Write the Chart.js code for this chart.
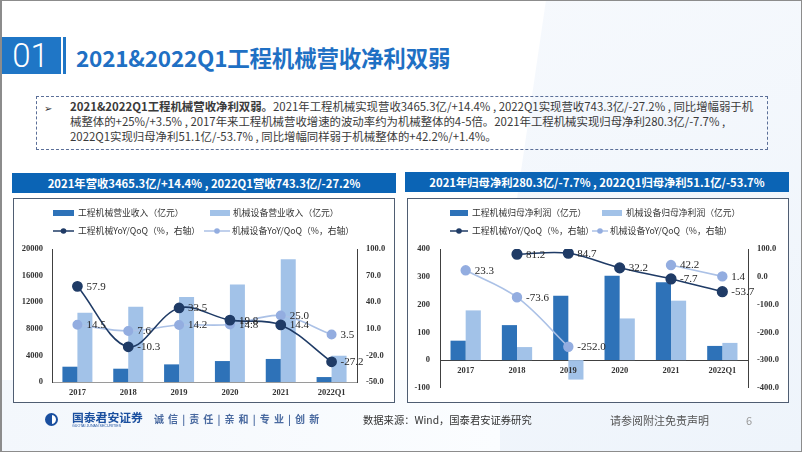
<!DOCTYPE html>
<html><head><meta charset="utf-8">
<script src="https://cdn.jsdelivr.net/npm/chart.js@4"></script>
<style>
html,body{margin:0;padding:0;}
body{width:802px;height:452px;position:relative;overflow:hidden;background:#fff;font-family:"Noto Sans CJK SC","Noto Sans",sans-serif;}
.a{position:absolute;}
#frame{left:0;top:0;width:802px;height:452px;box-sizing:border-box;border:1px solid #8c8c8c;border-left-width:2px;}
.bg1{left:480px;top:0;width:330px;height:452px;background:linear-gradient(160deg,#f6f9fd,#eef4fb);clip-path:polygon(20% 0,100% 0,100% 100%,0 100%);}
.bg2{left:0;top:380px;width:500px;height:72px;background:linear-gradient(90deg,#f3f7fc,#fbfdff);}
#num{left:0;top:37px;width:61px;height:37px;background:#1f76c6;color:#fff;font-family:Roboto,"Open Sans",sans-serif;font-weight:300;font-size:33px;line-height:37px;text-align:center;}
#bar{left:63px;top:37px;width:3px;height:37px;background:#1f76c6;}
#title{left:76px;top:43px;font-size:22.5px;line-height:28px;font-weight:bold;color:#1f70c4;white-space:nowrap;letter-spacing:-0.2px;}
#tbox{left:36px;top:96px;width:732px;height:54px;box-sizing:border-box;border:1px dashed #5b6f98;}
#arrow{left:44px;top:100px;font-size:10px;line-height:15px;color:#333;}
#para{left:70px;top:99px;font-size:11.4px;line-height:15px;color:#3a3a3a;white-space:nowrap;}
.hdr{top:173px;width:384px;height:20px;background:#0b64b5;color:#fff;font-weight:bold;font-size:11.3px;line-height:20px;text-align:center;white-space:nowrap;}
.box{top:198px;width:382px;height:205px;box-sizing:border-box;border:1.5px solid #4f5d72;background:#fff;}
canvas{position:absolute;}
#logo{left:45px;top:413px;width:13px;height:13px;border-radius:50%;box-sizing:border-box;border:2px solid #1a4f9f;background:linear-gradient(90deg,#1a4f9f 55%,#fff 55%);}
#lname{left:72px;top:410px;font-size:11.8px;font-weight:bold;color:#1a4f9f;line-height:13px;white-space:nowrap;letter-spacing:0px;}
#lsub{left:72px;top:424px;font-size:3.6px;color:#1a4f9f;line-height:4px;white-space:nowrap;font-family:"Liberation Sans",sans-serif;}
#slogan{left:154px;top:412px;font-size:10px;font-weight:bold;color:#4a6aa0;line-height:14px;white-space:nowrap;letter-spacing:4.1px;}
#src{left:363px;top:413px;font-size:10.3px;color:#333;line-height:14px;white-space:nowrap;}
#disc{left:610px;top:413px;font-size:11px;color:#555;line-height:14px;white-space:nowrap;}
#page{left:746px;top:413px;font-size:11px;color:#9a9a9a;line-height:14px;}
</style></head>
<body>
<div class="a bg1"></div>
<div class="a bg2"></div>
<div class="a" id="num">01</div>
<div class="a" id="bar"></div>
<div class="a" id="title">2021&amp;2022Q1工程机械营收净利双弱</div>
<div class="a" id="tbox"></div>
<div class="a" id="arrow">➢</div>
<div class="a" id="para"><b>2021&amp;2022Q1工程机械营收净利双弱。</b>2021年工程机械实现营收3465.3亿/+14.4% , 2022Q1实现营收743.3亿/-27.2% , 同比增幅弱于机<br>械整体的+25%/+3.5% , 2017年来工程机械营收增速的波动率约为机械整体的4-5倍。2021年工程机械实现归母净利280.3亿/-7.7% ,<br>2022Q1实现归母净利51.1亿/-53.7% , 同比增幅同样弱于机械整体的+42.2%/+1.4%。</div>

<div class="a hdr" style="left:12px;">2021年营收3465.3亿/+14.4% , 2022Q1营收743.3亿/-27.2%</div>
<div class="a hdr" style="left:405px;top:172px;">2021年归母净利280.3亿/-7.7% , 2022Q1归母净利51.1亿/-53.7%</div>
<div class="a box" style="left:13px;"></div>
<div class="a box" style="left:407px;"></div>
<canvas id="c1" width="382" height="205" style="left:13px;top:198px;width:382px;height:205px;"></canvas>
<canvas id="c2" width="382" height="205" style="left:407px;top:198px;width:382px;height:205px;"></canvas>

<div class="a" id="logo"></div>
<div class="a" id="lname">国泰君安证券</div>
<div class="a" id="lsub">GUOTAI JUNAN SECURITIES</div>
<div class="a" id="slogan">诚信|责任|亲和|专业|创新</div>
<div class="a" id="src">数据来源：Wind，国泰君安证券研究</div>
<div class="a" id="disc">请参阅附注免责声明</div>
<div class="a" id="page">6</div>
<div class="a" id="frame"></div>

<script>
// ---------- data ----------
const years = ['2017', '2018', '2019', '2020', '2021', '2022Q1'];
// left chart: revenue (亿元) and YoY/QoQ (%)
const cmRevenue = [2300, 2000, 2650, 3150, 3465.3, 743.3];
const meRevenue = [10420, 11300, 12800, 14650, 18450, 3950];
const cmRevenueYoY = [57.9, -10.3, 33.5, 19.8, 14.4, -27.2];
const meRevenueYoY = [14.5, 7.6, 14.2, 14.8, 25.0, 3.5];
const leftTicks = [0, 4000, 8000, 12000, 16000, 20000];
const leftRightTicks = [-50, -20, 10, 40, 70, 100];
// right chart: net profit attributable (亿元) and YoY/QoQ (%)
const cmProfit = [70, 126, 232, 304, 280.3, 51.1];
const meProfit = [179, 47, -70, 150, 214, 62];
const cmProfitYoY = [null, 81.2, 84.7, 32.2, -7.7, -53.7];
const meProfitYoY = [23.3, -73.6, -252.0, null, 42.2, 1.4];
const rightTicks = [-100, 0, 100, 200, 300, 400];
const rightRightTicks = [-400, -300, -200, -100, 0, 100];
const legendLeft = ['工程机械营业收入（亿元）', '机械设备营业收入（亿元）', '工程机械YoY/QoQ（%，右轴）', '机械设备YoY/QoQ（%，右轴）'];
const legendRight = ['工程机械归母净利润（亿元）', '机械设备归母净利润（亿元）', '工程机械YoY/QoQ（%，右轴）', '机械设备YoY/QoQ（%，右轴）'];

// ---------- styles ----------
const C_DARKBAR = '#2e72b8', C_LIGHTBAR = '#a2c2e8', C_DARKLINE = '#1f3b66', C_LIGHTLINE = '#abc1e6', C_LIGHTPT = '#93ade0';
const tickFont = {family: '"Liberation Serif", serif', size: 8.5, weight: 'bold'};
const tickColor = '#333';
const noGrid = {display: false, drawTicks: false};

const labelPlugin = {
  id: 'pointLabels',
  afterDatasetsDraw(chart) {
    const ctx = chart.ctx;
    ctx.save();
    ctx.font = '11px "Liberation Serif", serif';
    ctx.fillStyle = '#262626';
    ctx.textAlign = 'left';
    ctx.textBaseline = 'middle';
    chart.data.datasets.forEach((ds, i) => {
      if (ds.type !== 'line') return;
      const meta = chart.getDatasetMeta(i);
      meta.data.forEach((pt, j) => {
        const v = ds.data[j];
        if (v === null || v === undefined) return;
        ctx.fillText(v.toFixed(1), pt.x + 9, pt.y + 0.5);
      });
    });
    ctx.restore();
  }
};

const legendPlugin = {
  id: 'customLegend',
  afterDraw(chart, args, opts) {
    const ctx = chart.ctx;
    ctx.save();
    ctx.font = '8.8px "Noto Sans CJK SC", sans-serif';
    ctx.textBaseline = 'middle';
    ctx.textAlign = 'left';
    (opts.items || []).forEach(it => {
      if (it.kind === 'bar') {
        ctx.fillStyle = it.color;
        ctx.fillRect(it.x, it.y - 3, it.w, 6);
      } else {
        ctx.strokeStyle = it.color; ctx.lineWidth = 1.5;
        ctx.beginPath(); ctx.moveTo(it.x, it.y); ctx.lineTo(it.x + it.w, it.y); ctx.stroke();
        ctx.fillStyle = it.pt;
        ctx.beginPath(); ctx.arc(it.x + it.w / 2, it.y, 2.8, 0, Math.PI * 2); ctx.fill();
      }
      ctx.fillStyle = '#333';
      ctx.fillText(it.text, it.tx, it.y);
    });
    ctx.restore();
  }
};

function lineDs(data, color, ptColor, r) {
  return {type: 'line', data: data, yAxisID: 'y1', borderColor: color, borderWidth: 1.6,
    pointBackgroundColor: ptColor, pointBorderColor: ptColor, pointRadius: r, pointHoverRadius: r,
    tension: 0.35, spanGaps: false, order: 0};
}
function barDs(data, color) {
  return {type: 'bar', data: data, yAxisID: 'y', backgroundColor: color, borderWidth: 0,
    barPercentage: 1.0, categoryPercentage: 0.59, order: 1};
}

// ---------- left chart ----------
new Chart(document.getElementById('c1'), {
  data: {
    labels: years,
    datasets: [
      barDs(cmRevenue, C_DARKBAR),
      barDs(meRevenue, C_LIGHTBAR),
      lineDs(cmRevenueYoY, C_DARKLINE, C_DARKLINE, 4.6),
      lineDs(meRevenueYoY, C_LIGHTLINE, C_LIGHTPT, 4.2)
    ]
  },
  options: {
    responsive: false, animation: false, devicePixelRatio: 1,
    layout: {padding: {top: 51, left: 0, right: 0, bottom: 0}},
    plugins: {
      legend: {display: false}, tooltip: {enabled: false},
      customLegend: {items: [
        {kind: 'bar', color: C_DARKBAR, x: 40, y: 15, w: 21, text: legendLeft[0], tx: 65},
        {kind: 'bar', color: C_LIGHTBAR, x: 197, y: 15, w: 20, text: legendLeft[1], tx: 220},
        {kind: 'line', color: C_DARKLINE, pt: C_DARKLINE, x: 40, y: 33, w: 21, text: legendLeft[2], tx: 65},
        {kind: 'line', color: C_LIGHTLINE, pt: C_LIGHTPT, x: 191, y: 33, w: 26, text: legendLeft[3], tx: 219}
      ]}
    },
    scales: {
      x: {grid: noGrid, border: {color: '#9a9a9a', width: 1},
        ticks: {font: tickFont, color: tickColor, padding: 6, maxRotation: 0},
        afterFit(s) { s.height = 21; }},
      y: {position: 'left', min: 0, max: 20000, grid: noGrid, border: {color: '#404040', width: 1},
        afterBuildTicks(s) { s.ticks = leftTicks.map(v => ({value: v})); },
        ticks: {font: tickFont, color: tickColor, padding: 9, callback: v => String(v)},
        afterFit(s) { s.width = 39; }},
      y1: {position: 'right', min: -50, max: 100, grid: noGrid, border: {color: '#404040', width: 1},
        afterBuildTicks(s) { s.ticks = leftRightTicks.map(v => ({value: v})); },
        ticks: {font: tickFont, color: tickColor, padding: 9, callback: v => Number(v).toFixed(1)},
        afterFit(s) { s.width = 38; }}
    }
  },
  plugins: [labelPlugin, legendPlugin]
});

// ---------- right chart ----------
new Chart(document.getElementById('c2'), {
  data: {
    labels: years,
    datasets: [
      barDs(cmProfit, C_DARKBAR),
      barDs(meProfit, C_LIGHTBAR),
      lineDs(cmProfitYoY, C_DARKLINE, C_DARKLINE, 4.8),
      lineDs(meProfitYoY, C_LIGHTLINE, C_LIGHTPT, 4.4)
    ]
  },
  options: {
    responsive: false, animation: false, devicePixelRatio: 1,
    layout: {padding: {top: 51, left: 0, right: 0, bottom: 11}},
    plugins: {
      legend: {display: false}, tooltip: {enabled: false},
      customLegend: {items: [
        {kind: 'bar', color: C_DARKBAR, x: 43, y: 15, w: 18, text: legendRight[0], tx: 65},
        {kind: 'bar', color: C_LIGHTBAR, x: 195, y: 15, w: 20, text: legendRight[1], tx: 219},
        {kind: 'line', color: C_DARKLINE, pt: C_DARKLINE, x: 43, y: 33, w: 18, text: legendRight[2], tx: 65},
        {kind: 'line', color: C_LIGHTLINE, pt: C_LIGHTPT, x: 185, y: 33, w: 16, text: legendRight[3], tx: 203}
      ]}
    },
    scales: {
      x: {position: {y: 0}, grid: noGrid, border: {color: '#404040', width: 1},
        ticks: {z: 1, font: tickFont, color: tickColor, padding: 6, maxRotation: 0}},
      y: {position: 'left', min: -100, max: 400, grid: noGrid, border: {color: '#404040', width: 1},
        afterBuildTicks(s) { s.ticks = rightTicks.map(v => ({value: v})); },
        ticks: {font: tickFont, color: tickColor, padding: 10, callback: v => String(v)},
        afterFit(s) { s.width = 33; }},
      y1: {position: 'right', min: -400, max: 100, grid: noGrid, border: {color: '#404040', width: 1},
        afterBuildTicks(s) { s.ticks = rightRightTicks.map(v => ({value: v})); },
        ticks: {font: tickFont, color: tickColor, padding: 9, callback: v => Number(v).toFixed(1)},
        afterFit(s) { s.width = 41; }}
    }
  },
  plugins: [labelPlugin, legendPlugin]
});
</script>
</body></html>
